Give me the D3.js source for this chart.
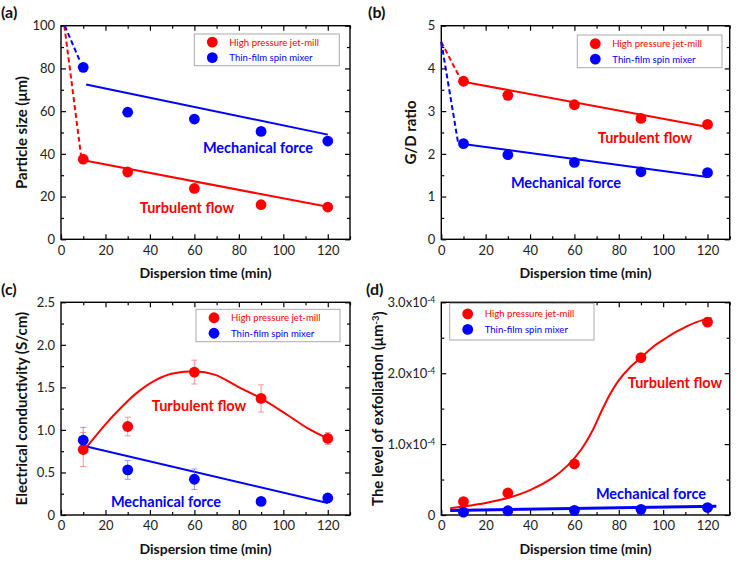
<!DOCTYPE html>
<html><head><meta charset="utf-8">
<script src="https://cdn.jsdelivr.net/npm/d3@7"></script>
<style>
html,body{margin:0;padding:0;background:#fff;}
svg{display:block;font-family:Lato,"Noto Sans",sans-serif;}
</style></head>
<body><svg id="chart" width="737" height="561"></svg>
<script>
// ---------- data ----------
const times = [10, 30, 60, 90, 120];
const seriesNames = ["High pressure jet-mill", "Thin-film spin mixer"];

// (a) particle size (µm)
const sizeJet = [37.5, 31.5, 23.8, 16.2, 15.1];
const sizeSpin = [80.5, 59.5, 56.3, 50.5, 46.0];
const sizeJetDashX = [1.5, 9.1], sizeJetDashY = [100, 38.5];
const sizeJetFitX = [11.3, 120], sizeJetFitY = [36.8, 15.2];
const sizeSpinDashX = [1.7, 8.7], sizeSpinDashY = [100, 83];
const sizeSpinFitX = [11.3, 120], sizeSpinFitY = [72.5, 49.0];

// (b) G/D ratio
const gdJet = [3.70, 3.37, 3.15, 2.83, 2.69];
const gdSpin = [2.24, 1.98, 1.80, 1.58, 1.56];
const gdJetDashX = [0, 8.6], gdJetDashY = [4.62, 3.76];
const gdJetFitX = [9.8, 120], gdJetFitY = [3.69, 2.63];
const gdSpinDashX = [0, 7.5], gdSpinDashY = [4.62, 2.28];
const gdSpinFitX = [9.8, 120], gdSpinFitY = [2.23, 1.46];

// (c) electrical conductivity (S/cm)
const ecJet = [0.77, 1.04, 1.68, 1.37, 0.90];
const ecJetErr = [0.20, 0.11, 0.14, 0.16, 0.07];
const ecSpin = [0.88, 0.53, 0.42, 0.16, 0.20];
const ecSpinErr = [0.15, 0.11, 0.12, 0.02, 0.03];
const ecJetFitX = [11.6, 19.8, 27.3, 34.8, 42.2, 49.7, 60.1, 69.1, 79.5, 90, 101.9, 110.9, 119.8];
const ecJetFitY = [0.80, 1.06, 1.27, 1.45, 1.58, 1.66, 1.69, 1.65, 1.51, 1.37, 1.175, 1.02, 0.90];
const ecSpinFitX = [10.5, 120], ecSpinFitY = [0.81, 0.14];

// (d) level of exfoliation (x1e-4 µm^-3)
const exJet = [0.19, 0.31, 0.72, 2.22, 2.72];
const exSpin = [0.04, 0.06, 0.066, 0.08, 0.105];
const exJetFitX = [4, 10, 20, 30, 40, 50, 57, 63, 68, 72, 76, 80, 85, 90, 95, 100, 105, 110, 115, 121.8];
const exJetFitY = [0.094, 0.12, 0.17, 0.24, 0.35, 0.52, 0.70, 0.92, 1.18, 1.45, 1.70, 1.90, 2.08, 2.22, 2.36, 2.47, 2.57, 2.65, 2.72, 2.78];
const exSpinFitX = [4, 124], exSpinFitY = [0.065, 0.125];

const xTicks = [0, 20, 40, 60, 80, 100, 120];
const sizeTicks = [0, 20, 40, 60, 80, 100];
const gdTicks = [0, 1, 2, 3, 4, 5];
const ecTicks = [0, 0.5, 1.0, 1.5, 2.0, 2.5];
const ecTickLabels = ["0", "0.5", "1.0", "1.5", "2.0", "2.5"];
const exTicks = [0, 1, 2, 3];
const exTickLabels = ["0", "1.0x10", "2.0x10", "3.0x10"];

// ---------- drawing ----------
const RED = "#ff0000", BLUE = "#0000ff";
const svg = d3.select("#chart");
svg.append("rect").attr("width", 737).attr("height", 561).attr("fill", "#fff");

function zip(xs, ys) { return xs.map((x, i) => [x, ys[i]]); }

function panel(cfg) {
  const x = d3.scaleLinear().domain([0, 130]).range([cfg.left, cfg.right]);
  const y = d3.scaleLinear().domain(cfg.ydomain).range([cfg.bottom, cfg.top]);
  const g = svg.append("g");
  const tf = "13px";

  const xMinor = d3.range(10, 131, 20);
  const yMinor = cfg.yMinor;
  const ax = (axis, tr) => g.append("g").attr("transform", tr).call(axis).call(s => s.select(".domain").remove());
  ax(d3.axisBottom(x).tickValues(xMinor).tickSize(-3).tickFormat(""), `translate(0,${cfg.bottom})`);
  ax(d3.axisTop(x).tickValues(xMinor).tickSize(-3).tickFormat(""), `translate(0,${cfg.top})`);
  ax(d3.axisLeft(y).tickValues(yMinor).tickSize(-3).tickFormat(""), `translate(${cfg.left},0)`);
  ax(d3.axisRight(y).tickValues(yMinor).tickSize(-3).tickFormat(""), `translate(${cfg.right},0)`);
  ax(d3.axisBottom(x).tickValues(xTicks).tickSize(-5).tickPadding(6).tickFormat(d3.format("d")), `translate(0,${cfg.bottom})`);
  ax(d3.axisTop(x).tickValues(xTicks.filter(v => v > 0)).tickSize(-5).tickFormat(""), `translate(0,${cfg.top})`);
  const ly = ax(d3.axisLeft(y).tickValues(cfg.yTicks).tickSize(-5).tickPadding(6).tickFormat((d, i) => cfg.yLabels[i]), `translate(${cfg.left},0)`);
  ax(d3.axisRight(y).tickValues(cfg.yTicks).tickSize(-5).tickFormat(""), `translate(${cfg.right},0)`);
  g.selectAll(".tick line").attr("stroke", "#000").attr("stroke-width", 1.2);
  g.selectAll(".tick text").attr("font-family", "Lato").attr("font-size", tf).attr("fill", "#222");
  if (cfg.superLabels) {
    ly.selectAll(".tick text").each(function (d) {
      if (d === 0) return;
      d3.select(this).append("tspan").attr("dy", "-0.45em").attr("font-size", "8.5px").text("-4");
    });
  }

  g.append("rect").attr("x", cfg.left).attr("y", cfg.top)
    .attr("width", cfg.right - cfg.left).attr("height", cfg.bottom - cfg.top)
    .attr("fill", "none").attr("stroke", "#000").attr("stroke-width", 1.4);

  g.append("text").attr("x", (cfg.left + cfg.right) / 2).attr("y", cfg.bottom + 39)
    .attr("text-anchor", "middle").attr("font-weight", "bold").attr("font-size", "14px")
    .attr("fill", "#111").text("Dispersion time (min)");
  const yt = g.append("text")
    .attr("transform", `translate(${cfg.ytitleX},${(cfg.top + cfg.bottom) / 2}) rotate(-90)`)
    .attr("text-anchor", "middle").attr("font-weight", "bold").attr("font-size", "15px").attr("fill", "#111");
  cfg.ytitle.forEach(p => {
    const ts = yt.append("tspan").text(p.t);
    if (p.sup) ts.attr("dy", "-0.45em").attr("font-size", "9.5px");
    if (p.after) ts.attr("dy", "0.45em");
  });
  g.append("text").attr("x", cfg.labX).attr("y", cfg.labY).attr("font-weight", "bold")
    .attr("font-size", "16px").attr("fill", "#111").text(cfg.label);

  const line = d3.line().x(d => x(d[0])).y(d => y(d[1]));
  const cline = d3.line().x(d => x(d[0])).y(d => y(d[1])).curve(d3.curveCatmullRom.alpha(0.5));

  (cfg.dashes || []).forEach(l => g.append("path").attr("d", line(l.pts)).attr("fill", "none")
    .attr("stroke", l.c).attr("stroke-width", 2).attr("stroke-dasharray", "5,3"));
  cfg.fits.forEach(l => g.append("path").attr("d", (l.curve ? cline : line)(l.pts)).attr("fill", "none")
    .attr("stroke", l.c).attr("stroke-width", l.w || 2));

  (cfg.errs || []).forEach(e => {
    const eg = g.append("g").attr("stroke", e.c).attr("stroke-width", 1);
    times.forEach((t, i) => {
      const v = e.vals[i], er = e.err[i];
      eg.append("line").attr("x1", x(t)).attr("x2", x(t)).attr("y1", y(v - er)).attr("y2", y(v + er));
      [v - er, v + er].forEach(w => eg.append("line").attr("x1", x(t) - 3).attr("x2", x(t) + 3).attr("y1", y(w)).attr("y2", y(w)));
    });
  });

  cfg.points.forEach(p => g.append("g").selectAll("circle").data(times.map((t, i) => [t, p.vals[i]]))
    .join("circle").attr("cx", d => x(d[0])).attr("cy", d => y(d[1])).attr("r", 5.4).attr("fill", p.c));

  cfg.notes.forEach(n => g.append("text").attr("x", n.x).attr("y", n.y).attr("text-anchor", "middle")
    .attr("dominant-baseline", "central").attr("font-weight", "bold").attr("font-size", "14.5px")
    .attr("fill", n.c).text(n.t));

  const L = cfg.legend;
  g.append("rect").attr("x", L.x).attr("y", L.y).attr("width", L.w).attr("height", L.h)
    .attr("fill", "#fff").attr("stroke", "#aaa").attr("stroke-width", 1);
  [RED, BLUE].forEach((c, i) => {
    const yy = L.y + L.h / 2 + (i - 0.5) * 15.5;
    g.append("circle").attr("cx", L.x + 18).attr("cy", yy).attr("r", 5.4).attr("fill", c);
    g.append("text").attr("x", L.x + 35).attr("y", yy).attr("dominant-baseline", "central")
      .attr("font-size", "9.6px").attr("fill", c).text(seriesNames[i]);
  });
}

panel({
  left: 61, right: 350, top: 25.7, bottom: 239.3, ydomain: [0, 100],
  yTicks: sizeTicks, yLabels: sizeTicks.map(String), yMinor: d3.range(10, 100, 20),
  ytitle: [{ t: "Particle size (μm)" }], ytitleX: 27, label: "(a)", labX: 1, labY: 18,
  dashes: [{ c: RED, pts: zip(sizeJetDashX, sizeJetDashY) }, { c: BLUE, pts: zip(sizeSpinDashX, sizeSpinDashY) }],
  fits: [{ c: RED, pts: zip(sizeJetFitX, sizeJetFitY) }, { c: BLUE, pts: zip(sizeSpinFitX, sizeSpinFitY) }],
  points: [{ c: RED, vals: sizeJet }, { c: BLUE, vals: sizeSpin }],
  notes: [{ t: "Mechanical force", c: BLUE, x: 258, y: 147 }, { t: "Turbulent flow", c: RED, x: 187, y: 207 }],
  legend: { x: 194.3, y: 34, w: 145, h: 31.7 }
});

panel({
  left: 441.3, right: 729.7, top: 25.7, bottom: 239.3, ydomain: [0, 5],
  yTicks: gdTicks, yLabels: gdTicks.map(String), yMinor: d3.range(0.5, 5, 1),
  ytitle: [{ t: "G/D ratio" }], ytitleX: 416, label: "(b)", labX: 368, labY: 18,
  dashes: [{ c: RED, pts: zip(gdJetDashX, gdJetDashY) }, { c: BLUE, pts: zip(gdSpinDashX, gdSpinDashY) }],
  fits: [{ c: RED, pts: zip(gdJetFitX, gdJetFitY) }, { c: BLUE, pts: zip(gdSpinFitX, gdSpinFitY) }],
  points: [{ c: RED, vals: gdJet }, { c: BLUE, vals: gdSpin }],
  notes: [{ t: "Turbulent flow", c: RED, x: 645, y: 137 }, { t: "Mechanical force", c: BLUE, x: 566, y: 182 }],
  legend: { x: 577.3, y: 35, w: 144.7, h: 32.7 }
});

panel({
  left: 61, right: 350, top: 302.3, bottom: 515, ydomain: [0, 2.5],
  yTicks: ecTicks, yLabels: ecTickLabels, yMinor: d3.range(0.25, 2.5, 0.5),
  ytitle: [{ t: "Electrical conductivity (S/cm)" }], ytitleX: 27, label: "(c)", labX: 1, labY: 295,
  errs: [{ c: "rgba(240,120,120,0.75)", vals: ecJet, err: ecJetErr }, { c: "rgba(120,120,240,0.75)", vals: ecSpin, err: ecSpinErr }],
  fits: [{ c: RED, curve: true, pts: zip(ecJetFitX, ecJetFitY) }, { c: BLUE, pts: zip(ecSpinFitX, ecSpinFitY) }],
  points: [{ c: RED, vals: ecJet }, { c: BLUE, vals: ecSpin }],
  notes: [{ t: "Turbulent flow", c: RED, x: 199, y: 405 }, { t: "Mechanical force", c: BLUE, x: 166, y: 501 }],
  legend: { x: 196, y: 309.3, w: 144, h: 32.4 }
});

panel({
  left: 441.3, right: 729.7, top: 302.3, bottom: 515, ydomain: [0, 3],
  yTicks: exTicks, yLabels: exTickLabels, superLabels: true, yMinor: d3.range(0.5, 3, 1),
  ytitle: [{ t: "The level of exfoliation (μm" }, { t: "-3", sup: true }, { t: ")", after: true }], ytitleX: 383,
  label: "(d)", labX: 366, labY: 295,
  fits: [{ c: RED, curve: true, pts: zip(exJetFitX, exJetFitY) }, { c: BLUE, w: 3, pts: zip(exSpinFitX, exSpinFitY) }],
  points: [{ c: RED, vals: exJet }, { c: BLUE, vals: exSpin }],
  notes: [{ t: "Turbulent flow", c: RED, x: 675, y: 382 }, { t: "Mechanical force", c: BLUE, x: 651, y: 493 }],
  legend: { x: 449.7, y: 303.3, w: 144.3, h: 36.7 }
});
</script></body></html>
